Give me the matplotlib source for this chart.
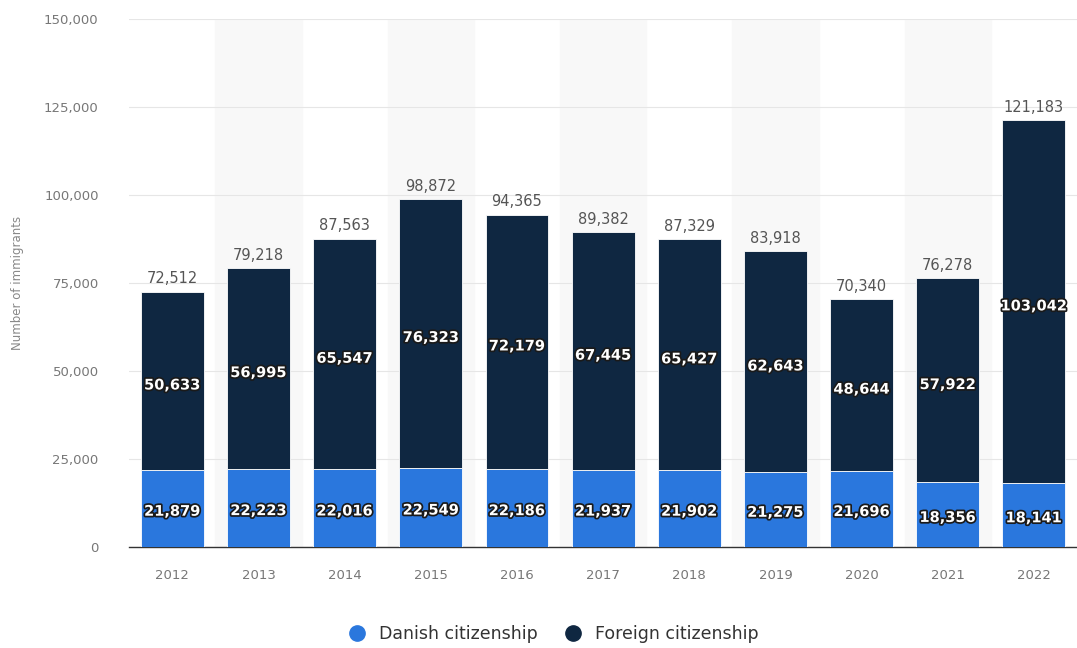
import matplotlib.pyplot as plt
import matplotlib.patheffects as pe
import numpy as np

years = ["2012", "2013", "2014", "2015", "2016", "2017", "2018", "2019", "2020", "2021", "2022"]
danish = [21879, 22223, 22016, 22549, 22186, 21937, 21902, 21275, 21696, 18356, 18141]
foreign = [50633, 56995, 65547, 76323, 72179, 67445, 65427, 62643, 48644, 57922, 103042]
totals = [72512, 79218, 87563, 98872, 94365, 89382, 87329, 83918, 70340, 76278, 121183]

c_dan = "#2a77dd"
c_for = "#0f2741"

fig = plt.figure(figsize=(10.77, 6.48), dpi=100)
ax = fig.add_axes([0.12, 0.156, 0.88, 0.815])

x = np.arange(len(years))

# alternating shaded columns
for i in x:
    if i % 2 == 1:
        ax.axvspan(i - 0.5, i + 0.5, color="#f8f8f8", zorder=0)

ax.bar(x, danish, width=0.73, color=c_dan, edgecolor="white", linewidth=0.6, zorder=3)
ax.bar(x, foreign, width=0.73, bottom=danish, color=c_for, edgecolor="white", linewidth=0.6, zorder=3)

outline = [pe.withStroke(linewidth=2.5, foreground="#1a1a1a")]
for i in x:
    ax.text(i, danish[i] / 2 - 800, f"{danish[i]:,}", ha="center", va="center", color="white",
            fontsize=10.5, fontweight="bold", path_effects=outline, zorder=5)
    ax.text(i, danish[i] + foreign[i] / 2 - 1200, f"{foreign[i]:,}", ha="center", va="center", color="white",
            fontsize=10.5, fontweight="bold", path_effects=outline, zorder=5)
    ax.text(i, totals[i] + 1500, f"{totals[i]:,}", ha="center", va="bottom", color="#555555",
            fontsize=10.5, zorder=5)

ax.set_xlim(-0.5, len(years) - 0.5)
ax.set_ylim(0, 150000)
ax.set_yticks(range(0, 150001, 25000))
ax.set_yticklabels([f"{v:,}" for v in range(0, 150001, 25000)])
ax.set_xticks(x)
ax.set_xticklabels(years)
ax.tick_params(axis="both", length=0, colors="#777777", labelsize=9.5)
ax.tick_params(axis="x", pad=16)
ax.tick_params(axis="y", pad=22)
ax.grid(axis="y", color="#e6e6e6", linewidth=0.8, zorder=1)
ax.set_axisbelow(True)
for s in ["top", "right", "left"]:
    ax.spines[s].set_visible(False)
ax.spines["bottom"].set_color("#333333")
ax.spines["bottom"].set_linewidth(1.0)
ax.set_ylabel("Number of immigrants", color="#888888", fontsize=8.5, labelpad=14)

handles = [plt.Line2D([], [], marker="o", linestyle="", markersize=11, color=c_dan),
           plt.Line2D([], [], marker="o", linestyle="", markersize=11, color=c_for)]
fig.legend(handles, ["Danish citizenship", "Foreign citizenship"], loc="center",
           bbox_to_anchor=(0.51, 0.022), ncol=2, frameon=False, fontsize=12.5,
           handletextpad=0.3, columnspacing=1.0, labelcolor="#333333")

fig.savefig("out.png", dpi=100)
